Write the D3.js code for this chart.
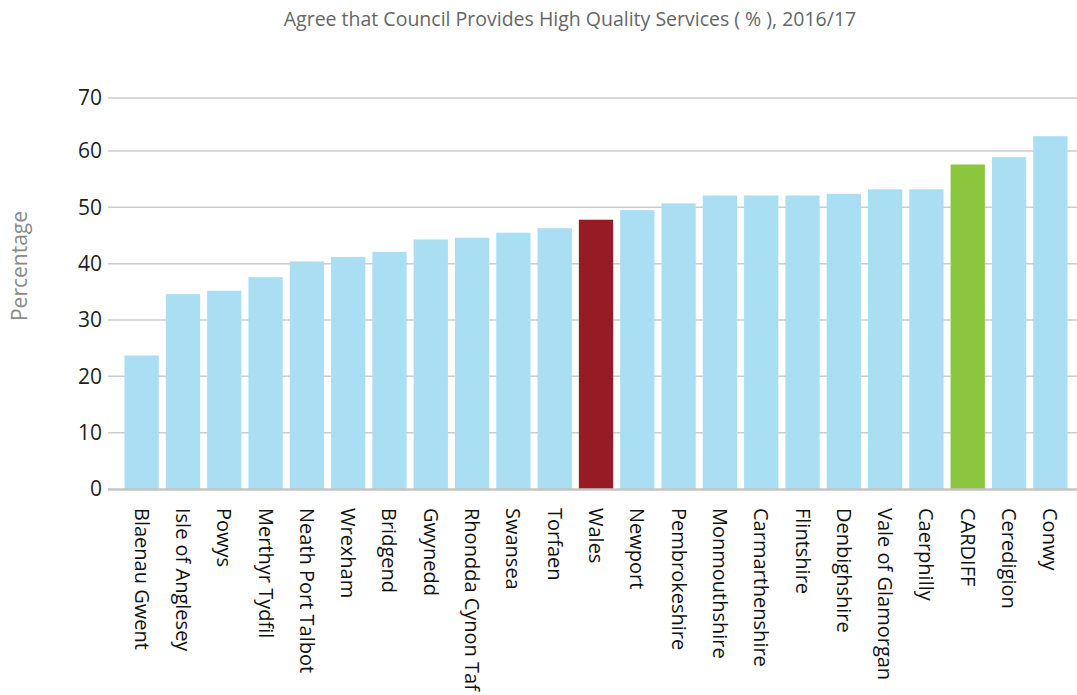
<!DOCTYPE html>
<html><head><meta charset="utf-8">
<script src="https://cdn.jsdelivr.net/npm/d3@7"></script>
<style>body{margin:0;background:#fff}svg{display:block}</style>
</head><body>
<svg id="chart" width="1077" height="695"></svg>
<script>
const categories = ["Blaenau Gwent","Isle of Anglesey","Powys","Merthyr Tydfil","Neath Port Talbot","Wrexham","Bridgend","Gwynedd","Rhondda Cynon Taf","Swansea","Torfaen","Wales","Newport","Pembrokeshire","Monmouthshire","Carmarthenshire","Flintshire","Denbighshire","Vale of Glamorgan","Caerphilly","CARDIFF","Ceredigion","Conwy"];
const values = [23.7,34.6,35.2,37.6,40.4,41.2,42.1,44.3,44.6,45.5,46.3,47.8,49.5,50.7,52.1,52.1,52.1,52.4,53.2,53.2,57.6,58.9,62.8];
const yTicks = [0,10,20,30,40,50,60,70];
const titleText = "Agree that Council Provides High Quality Services ( % ), 2016/17";
const yLabel = "Percentage";

(function () {
const svg = d3.select("#chart");
const font = "'Open Sans', 'Noto Sans', sans-serif";
const gridLeft = 108, gridRight = 1077;

const x = d3.scaleBand().domain(categories).range([121, 1071]).paddingInner(0.17).paddingOuter(0.085);
const y = d3.scaleLinear().domain([0, 60, 70]).range([489, 151, 98]);

const colorFor = c => c === "Wales" ? "#961b24" : c === "CARDIFF" ? "#8cc63f" : "#aadff3";

svg.append("g").selectAll("line").data(yTicks.filter(t => t > 0)).join("line")
  .attr("x1", gridLeft).attr("x2", gridRight)
  .attr("y1", d => y(d)).attr("y2", d => y(d))
  .attr("stroke", "#cccccc").attr("stroke-width", 1.5);

svg.append("g").selectAll("rect").data(categories).join("rect")
  .attr("x", d => x(d)).attr("width", x.bandwidth())
  .attr("y", (d, i) => y(values[i])).attr("height", (d, i) => y(0) - y(values[i]))
  .attr("fill", d => colorFor(d));

svg.append("line").attr("x1", gridLeft).attr("x2", gridRight)
  .attr("y1", y(0) + 0.5).attr("y2", y(0) + 0.5)
  .attr("stroke", "#c4c4c4").attr("stroke-width", 2.5);

const yAxis = d3.axisLeft(y).tickValues(yTicks).tickSize(0).tickPadding(0).tickFormat(d3.format("d"));
const yg = svg.append("g").attr("transform", "translate(102,0)").call(yAxis);
yg.select(".domain").remove();
yg.selectAll("text").attr("font-family", font).attr("font-size", 21).attr("fill", "#1e1e1e");

const xAxis = d3.axisBottom(x).tickSize(0).tickPadding(0);
const xg = svg.append("g").attr("transform", "translate(0,508)").call(xAxis);
xg.select(".domain").remove();
xg.selectAll("text")
  .attr("font-family", font).attr("font-size", 20).attr("fill", "#111")
  .attr("text-anchor", "start")
  .attr("transform", "rotate(90)")
  .attr("x", 0).attr("y", 0).attr("dy", "0.35em");

svg.append("text").attr("x", 570).attr("y", 26).attr("text-anchor", "middle")
  .attr("font-family", font).attr("font-size", 19.5).attr("fill", "#666").text(titleText);

svg.append("text").attr("transform", "translate(27,266) rotate(-90)").attr("text-anchor", "middle")
  .attr("font-family", font).attr("font-size", 21).attr("fill", "#8a8a8a").text(yLabel);
})();
</script>
</body></html>
